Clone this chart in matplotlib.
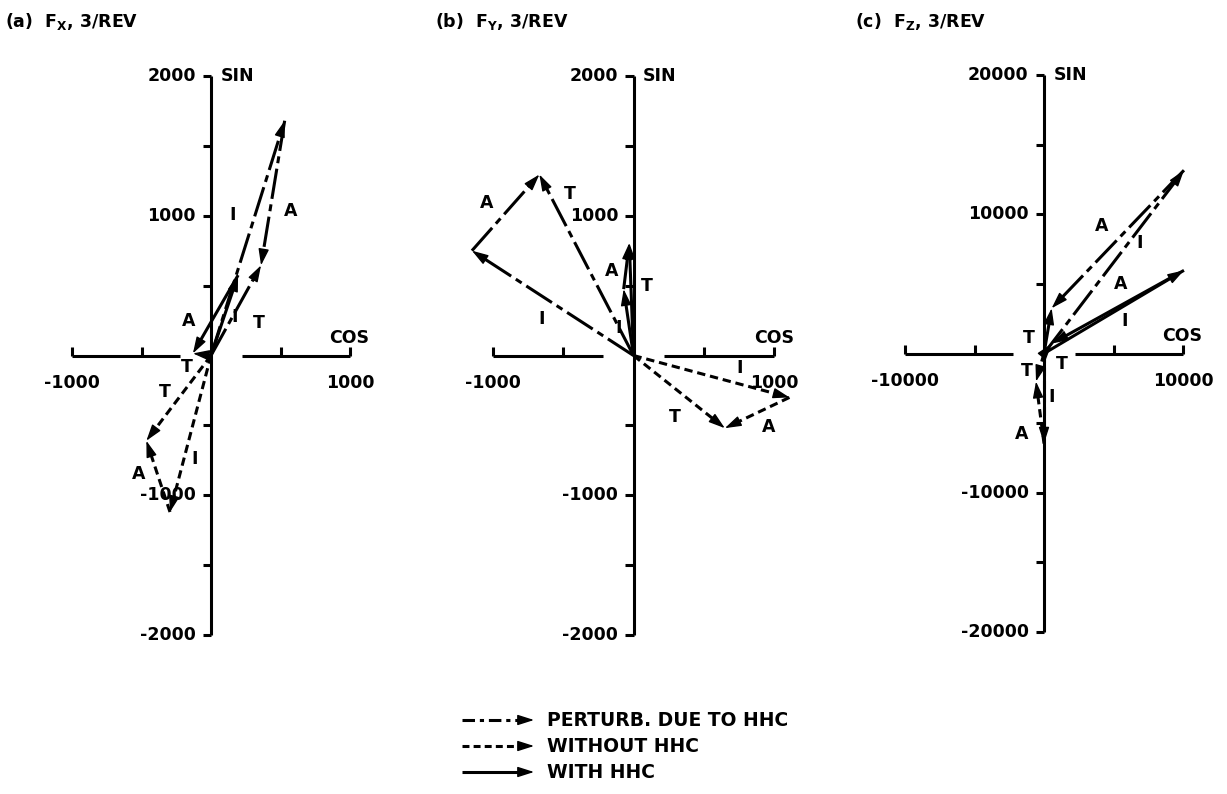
import matplotlib.pyplot as plt
import numpy as np

plt.rcParams['font.family'] = ['DejaVu Sans']
plt.rcParams['font.weight'] = 'bold'
plt.rcParams['mathtext.fontset'] = 'custom'
plt.rcParams['mathtext.rm'] = 'DejaVu Sans:bold'
plt.rcParams['mathtext.it'] = 'DejaVu Sans:bold'
plt.rcParams['lines.scale_dashes'] = False

# Conditions, in the order used by every array below
conditions = ['PERTURB. DUE TO HHC', 'WITHOUT HHC', 'WITH HHC']

# 3/rev hub loads: tip of inertial (I) and total (T) vectors, A = T - I
fx_inertial_cos = [530, -295, 195]
fx_inertial_sin = [1680, -1120, 575]
fx_total_cos = [360, -465, -130]
fx_total_sin = [645, -610, 15]

fy_inertial_cos = [-1150, 1110, -70]
fy_inertial_sin = [750, -300, 475]
fy_total_cos = [-670, 650, -30]
fy_total_sin = [1295, -520, 805]

fz_inertial_cos = [10070, 0, 10070]
fz_inertial_sin = [13160, -6470, 5970]
fz_total_cos = [550, -575, 575]
fz_total_sin = [3250, -2010, 720]

line_styles = [(0, (22, 4, 5, 4)), (0, (6, 3.5)), '-']
key_styles = [(0, (9, 3.5, 3, 3.5)), (0, (5, 3)), '-']
LW = 2.2
FS = 12.5

W, H = 1227, 794
fig = plt.figure(figsize=(W / 100, H / 100), dpi=100)


def vector(ax, p0, p1, ls, unit):
    p0 = np.asarray(p0, float)
    p1 = np.asarray(p1, float)
    d = p1 - p0
    u = d / np.hypot(*d)
    head = 0.1 * unit
    end = p1 - u * head * 0.6
    ax.plot([p0[0], end[0]], [p0[1], end[1]], color='k', lw=LW, linestyle=ls,
            solid_capstyle='butt', dash_capstyle='butt', clip_on=False)
    ax.annotate('', xy=p1, xytext=p1 - u * head,
                arrowprops=dict(arrowstyle='-|>,head_length=1.0,head_width=0.32',
                                mutation_scale=10, color='k', lw=1,
                                shrinkA=0, shrinkB=0),
                annotation_clip=False)


def draw_frame(ax, unit):
    ax.set_xlim(-unit, unit)
    ax.set_ylim(-2 * unit, 2 * unit)
    ax.axis('off')
    tk = 0.06 * unit
    kw = dict(color='k', lw=LW, clip_on=False, solid_capstyle='butt')
    ax.plot([0, 0], [-2 * unit, 2 * unit], **kw)
    for y in np.arange(-4, 5) * 0.5 * unit:
        if y != 0:
            ax.plot([-tk, 0], [y, y], **kw)
    gap = 0.22 * unit
    ax.plot([-unit, -gap], [0, 0], **kw)
    ax.plot([gap, unit], [0, 0], **kw)
    for x in [-unit, -0.5 * unit, 0.5 * unit, unit]:
        ax.plot([x, x], [0, tk], **kw)
    for y in [-2, -1, 1, 2]:
        ax.annotate(f'{y * unit:d}', (0, y * unit), xytext=(-11, 0),
                    textcoords='offset points', ha='right', va='center',
                    fontsize=FS, annotation_clip=False)
    for x in [-1, 1]:
        ax.annotate(f'{x * unit:d}', (x * unit, 0), xytext=(0, -20),
                    textcoords='offset points', ha='center', va='center',
                    fontsize=FS, annotation_clip=False)
    ax.annotate('SIN', (0, 2 * unit), xytext=(7, 0), textcoords='offset points',
                ha='left', va='center', fontsize=FS, annotation_clip=False)
    ax.text(1.14 * unit, 0.125 * unit, 'COS', ha='right', va='center',
            fontsize=FS, clip_on=False)


def draw_panel(rect, unit, ic, is_, tc, ts, letters):
    ax = fig.add_axes(rect)
    draw_frame(ax, unit)
    for k, ls in enumerate(line_styles):
        i_tip = (ic[k], is_[k])
        t_tip = (tc[k], ts[k])
        vector(ax, (0, 0), i_tip, ls, unit)
        vector(ax, i_tip, t_tip, ls, unit)
        vector(ax, (0, 0), t_tip, ls, unit)
    for ch, x, y in letters:
        ax.text(x, y, ch, ha='center', va='center', fontsize=FS, clip_on=False)
    return ax


draw_panel([72 / W, 159 / H, 278 / W, 559 / H], 1000,
           fx_inertial_cos, fx_inertial_sin, fx_total_cos, fx_total_sin,
           [('I', 158, 1004), ('A', 574, 1032), ('A', -158, 244),
            ('I', 172, 272), ('T', 344, 229), ('T', -172, -79),
            ('T', -330, -258), ('A', -523, -846), ('I', -115, -738)])

draw_panel([493 / W, 159 / H, 281 / W, 559 / H], 1000,
           fy_inertial_cos, fy_inertial_sin, fy_total_cos, fy_total_sin,
           [('A', -1047, 1089), ('T', -456, 1153), ('I', -655, 263),
            ('A', -157, 605), ('T', 93, 498), ('I', -107, 199),
            ('I', 755, -93), ('T', 292, -441), ('A', 961, -513)])

draw_panel([905 / W, 162 / H, 278 / W, 557 / H], 10000,
           fz_inertial_cos, fz_inertial_sin, fz_total_cos, fz_total_sin,
           [('A', 4170, 9131), ('I', 6902, 7909), ('A', 5536, 4961),
            ('I', 5824, 2301), ('T', -1079, 1079), ('T', 1294, -719),
            ('T', -1222, -1222), ('I', 575, -3092), ('A', -1582, -5752)])

# overlay in pixel units for the panel titles and the key
top = fig.add_axes([0, 0, 1, 1])
top.set_xlim(0, W)
top.set_ylim(H, 0)
top.axis('off')

titles = [r'(a)  $\mathrm{F}_{\mathrm{X}}$, 3/REV',
          r'(b)  $\mathrm{F}_{\mathrm{Y}}$, 3/REV',
          r'(c)  $\mathrm{F}_{\mathrm{Z}}$, 3/REV']
for tx, title in zip([5, 435, 855], titles):
    top.text(tx, 27, title, ha='left', va='baseline', fontsize=FS)

for ky, name, ls in zip([720, 746, 772], conditions, key_styles):
    top.plot([462, 522], [ky, ky], color='k', lw=LW, linestyle=ls,
             dash_capstyle='butt', solid_capstyle='butt')
    top.annotate('', xy=(534, ky), xytext=(520, ky),
                 arrowprops=dict(arrowstyle='-|>,head_length=1.0,head_width=0.32',
                                 mutation_scale=10, color='k', lw=1,
                                 shrinkA=0, shrinkB=0))
    top.text(547, ky, name, ha='left', va='center', fontsize=13.5)

fig.savefig('out.png', dpi=100)
